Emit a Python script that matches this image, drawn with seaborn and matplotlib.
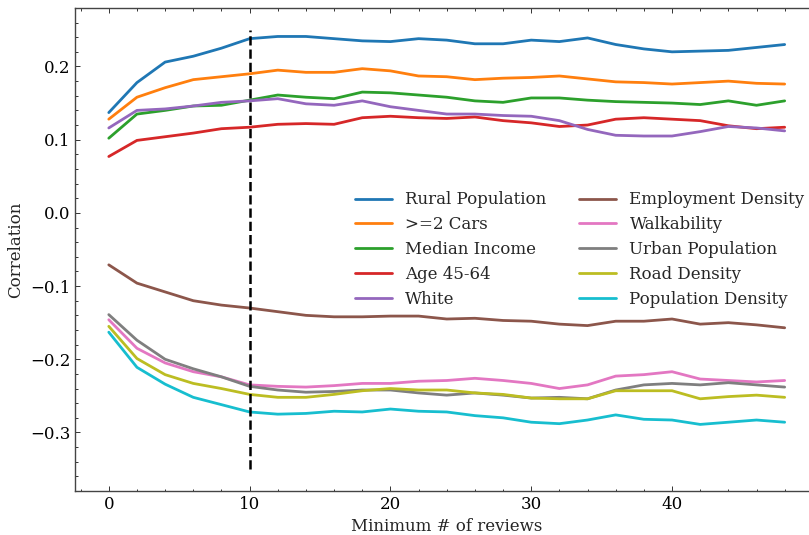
import numpy as np
import pandas as pd
import matplotlib
matplotlib.use("Agg")
import matplotlib.pyplot as plt
import seaborn as sns
from matplotlib.ticker import MultipleLocator, FixedLocator

# Мінімальна кількість відгуків
min_reviews = list(range(0, 50, 2))
x_ticks = [0, 10, 20, 30, 40]

rural_population = [0.137, 0.178, 0.206, 0.214, 0.225, 0.238, 0.241, 0.241, 0.238, 0.235,
                    0.234, 0.238, 0.236, 0.231, 0.231, 0.236, 0.234, 0.239, 0.230, 0.224,
                    0.220, 0.221, 0.222, 0.226, 0.230]
two_cars = [0.128, 0.158, 0.171, 0.182, 0.186, 0.190, 0.195, 0.192, 0.192, 0.197,
            0.194, 0.187, 0.186, 0.182, 0.184, 0.185, 0.187, 0.183, 0.179, 0.178,
            0.176, 0.178, 0.180, 0.177, 0.176]
median_income = [0.102, 0.135, 0.140, 0.146, 0.147, 0.154, 0.161, 0.158, 0.156, 0.165,
                 0.164, 0.161, 0.158, 0.153, 0.151, 0.157, 0.157, 0.154, 0.152, 0.151,
                 0.150, 0.148, 0.153, 0.147, 0.153]
age_45_64 = [0.077, 0.099, 0.104, 0.109, 0.115, 0.117, 0.121, 0.122, 0.121, 0.130,
             0.132, 0.130, 0.129, 0.131, 0.126, 0.123, 0.118, 0.120, 0.128, 0.130,
             0.128, 0.126, 0.119, 0.115, 0.117]
white = [0.116, 0.140, 0.142, 0.146, 0.151, 0.153, 0.156, 0.149, 0.147, 0.153,
         0.145, 0.140, 0.135, 0.135, 0.133, 0.132, 0.126, 0.114, 0.106, 0.105,
         0.105, 0.111, 0.118, 0.116, 0.112]
employment_density = [-0.071, -0.096, -0.108, -0.120, -0.126, -0.130, -0.135, -0.140, -0.142, -0.142,
                      -0.141, -0.141, -0.145, -0.144, -0.147, -0.148, -0.152, -0.154, -0.148, -0.148,
                      -0.145, -0.152, -0.150, -0.153, -0.157]
walkability = [-0.146, -0.185, -0.205, -0.217, -0.224, -0.235, -0.237, -0.238, -0.236, -0.233,
               -0.233, -0.230, -0.229, -0.226, -0.229, -0.233, -0.240, -0.235, -0.223, -0.221,
               -0.217, -0.227, -0.229, -0.231, -0.229]
urban_population = [-0.139, -0.174, -0.200, -0.213, -0.224, -0.237, -0.242, -0.245, -0.244, -0.242,
                    -0.242, -0.246, -0.249, -0.246, -0.249, -0.253, -0.252, -0.254, -0.242, -0.235,
                    -0.233, -0.235, -0.232, -0.235, -0.238]
road_density = [-0.155, -0.199, -0.221, -0.233, -0.240, -0.248, -0.252, -0.252, -0.248, -0.243,
                -0.240, -0.242, -0.242, -0.246, -0.248, -0.253, -0.254, -0.254, -0.243, -0.243,
                -0.243, -0.254, -0.251, -0.249, -0.252]
population_density = [-0.163, -0.211, -0.234, -0.252, -0.262, -0.272, -0.275, -0.274, -0.271, -0.272,
                      -0.268, -0.271, -0.272, -0.277, -0.280, -0.286, -0.288, -0.283, -0.276, -0.282,
                      -0.283, -0.289, -0.286, -0.283, -0.286]

series = {
    'Rural Population': rural_population,
    '>=2 Cars': two_cars,
    'Median Income': median_income,
    'Age 45-64': age_45_64,
    'White': white,
    'Employment Density': employment_density,
    'Walkability': walkability,
    'Urban Population': urban_population,
    'Road Density': road_density,
    'Population Density': population_density,
}

rows = []
for name, values in series.items():
    for x, v in zip(min_reviews, values):
        rows.append({'min_reviews': x, 'corr': v, 'feature': name})
df = pd.DataFrame(rows)

sns.set_style('ticks')
plt.rcParams['font.family'] = ['DejaVu Serif']
plt.rcParams['font.size'] = 12
plt.rcParams['mathtext.fontset'] = 'dejavuserif'

fig = plt.figure(figsize=(8.09, 5.35), dpi=100)
ax = fig.add_axes([0.0927, 0.0822, 0.919, 0.903])

sns.lineplot(data=df, x='min_reviews', y='corr', hue='feature',
             palette='tab10', linewidth=2.0, ax=ax)

# Поріг у 10 відгуків
ax.vlines(10, -0.35, 0.25, colors='black', linestyles='--', linewidth=1.8)

ax.set_xlim(-2.4, 50.4)
ax.set_ylim(-0.38, 0.28)
ax.xaxis.set_major_locator(FixedLocator(x_ticks))
ax.xaxis.set_minor_locator(MultipleLocator(2))
ax.yaxis.set_major_locator(MultipleLocator(0.1))
ax.yaxis.set_minor_locator(MultipleLocator(0.02))
ax.tick_params(which='both', direction='in', top=True, right=True, width=0.7, colors='#333333',
               labelcolor='black', labelsize=12)
ax.tick_params(which='major', length=3.6)
ax.tick_params(which='minor', length=1.8)
for sp in ax.spines.values():
    sp.set_color('#444444')
    sp.set_linewidth(1.0)

ax.set_xlabel('Minimum # of reviews', fontsize=12)
ax.set_ylabel('Correlation', fontsize=12)

ax.legend(title=None, ncol=2, frameon=False, loc='upper left',
          bbox_to_anchor=(0.3675, 0.634), borderaxespad=0, fontsize=12,
          handlelength=2.2, labelspacing=0.47, columnspacing=2.0)

fig.savefig('out.png', dpi=100)
